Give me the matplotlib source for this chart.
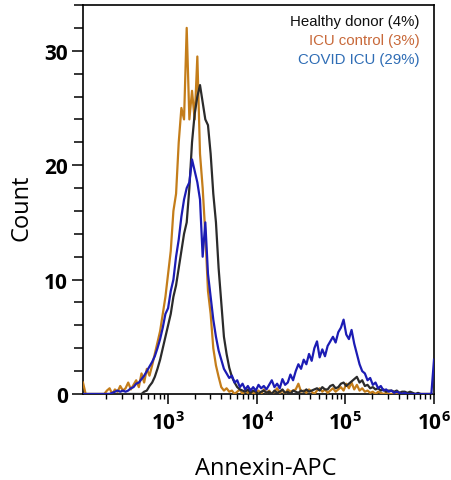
import numpy as np
import matplotlib.pyplot as plt
from matplotlib.ticker import FixedLocator, MultipleLocator, LogLocator, NullFormatter

plt.rcParams['font.family'] = 'Open Sans'
plt.rcParams['mathtext.fontset'] = 'custom'
plt.rcParams['mathtext.bf'] = 'Open Sans:bold'
plt.rcParams['mathtext.rm'] = 'Open Sans'

# -------------------------
# Data: histogram channels (log10 of Annexin-APC) and counts
# -------------------------
log_channels = np.arange(2.04, 6.0001, 0.03)

icu_control = [
    1.0, 0, 0, 0, 0, 0, 0, 0, 0,
    0.3, 0.5, 0, 0.4, 0.2, 0.7, 0.3, 0.5, 1.0, 0.4, 0.8, 1.2, 0.6, 1.8, 1.0, 2.2,
    1.6, 2.5, 3.5, 4.5, 5.5, 7.0, 8.5, 10.5, 12.5, 16, 17.5, 22, 25, 24, 32,
    24, 26.5, 24, 29.5, 21, 18, 14, 9, 7, 4, 2.5, 1.5, 0.6, 0.3, 0.5, 0.2,
    0.3, 0, 0.2, 0.4, 0, 0.3, 0.1, 0.4, 0, 0.2, 0.3, 0, 0.4, 0.1, 0.3, 0,
    0.2, 0.5, 0.1, 0.3, 0, 0.4, 0.2, 0.3,
    0.4, 0.9, 0.2,
    0.3, 0.1, 0.4, 0.2, 0, 0.3, 0.5, 0.2, 0.4, 0.1, 0.3, 0.5, 0.2, 0.4,
    0.6, 0.3, 0.9, 0.5, 1.0, 0.4, 0.8, 0.3, 0.5, 0.2,
    0.3, 0.1, 0.2, 0, 0.2, 0.1, 0, 0.1, 0, 0, 0, 0, 0, 0, 0, 0, 0, 0, 0, 0,
    0, 0, 0, 0, 0, 0,
]

healthy_donor = [
    0, 0, 0, 0, 0, 0, 0, 0, 0, 0, 0, 0, 0, 0, 0, 0, 0, 0, 0, 0, 0, 0, 0,
    0.2, 0.3, 0.7, 1.0, 1.5, 2.2, 3.0, 4.0, 5.0, 6.0, 7.0, 8.5, 9.5, 11, 12.5,
    14, 15, 18, 22, 24.5, 26, 27, 25.5, 24, 23.5, 21, 17.5, 15, 11, 8, 5, 3.5,
    2.3, 1.5, 1.0, 0.6, 0.4,
    0.3, 0.2, 0.4, 0.1, 0.3, 0.2, 0, 0.2, 0.3, 0.1, 0.2, 0, 0.3, 0.1, 0.2,
    0.4, 0.1, 0.2, 0, 0.3, 0.2, 0.1, 0.3, 0.2, 0.4, 0.2, 0.3,
    0.4, 0.5, 0.3, 0.6, 0.4, 0.4, 0.7, 0.8, 0.5, 0.6, 0.9, 1.0, 0.7, 0.9, 1.1,
    1.3, 1.5, 1.0, 1.2, 0.7, 0.8, 0.5, 0.6, 0.4, 0.5, 0.3, 0.4, 0.2, 0.3, 0.3,
    0.2, 0.3, 0.1, 0.2, 0.2, 0.1, 0.2, 0.1, 0, 0.1, 0, 0, 0, 0, 0, 0,
]

covid_icu = [
    0, 0, 0, 0, 0, 0, 0, 0, 0, 0, 0,
    0.1, 0.2, 0.3, 0.2, 0.3, 0.2,
    0.3, 0.5, 0.6, 0.9, 1.0, 1.3, 1.6, 2.0, 2.4, 2.8, 3.3, 4.0, 4.8, 5.8, 7.0,
    7.5, 9.0, 10, 12, 13.5, 15.5, 17, 18, 18.5, 20.5, 19.5, 18.5, 17, 12, 15,
    10.5, 8.5, 6.5, 5, 3.8, 3.0, 2.2, 1.8, 1.4, 1.6, 1.0, 1.2, 0.6, 0.9, 0.4,
    0.7, 0.3, 0.6, 0.3, 0.8, 0.5, 0.7, 0.4, 0.8,
    1.2, 0.6, 0.9, 0.5, 1.3, 0.8, 1.0, 1.7, 1.2, 2.0, 2.6, 2.2, 3.0, 2.6, 3.5,
    2.9, 4.0, 4.6, 3.2, 3.9, 3.3, 4.2, 4.6, 5.0, 4.5, 5.4, 5.8, 6.5, 5.2, 4.8,
    5.6, 4.4, 3.5, 2.6, 2.0, 1.8, 1.2, 1.4, 0.8, 1.0, 0.5, 0.7, 0.3, 0.4, 0.2,
    0.3, 0.1, 0.2, 0.1, 0, 0.1,
    0, 0, 0, 0, 0, 0, 0, 0, 0, 0,
    3.0,
]

legend_labels = ['Healthy donor (4%)', 'ICU control (3%)', 'COVID ICU (29%)']
legend_colors = ['#111111', '#c8693a', '#2f6db5']

y_major = [0, 10, 20, 30]
x_major = [1e3, 1e4, 1e5, 1e6]
x_major_labels = [r'$\mathbf{10^3}$', r'$\mathbf{10^4}$', r'$\mathbf{10^5}$', r'$\mathbf{10^6}$']

# -------------------------
# Figure
# -------------------------
fig = plt.figure(figsize=(4.52, 4.81), dpi=100)
ax = fig.add_axes([83 / 452, 86 / 481, 351 / 452, 389 / 481])

x = 10 ** log_channels
ax.plot(x, icu_control, color='#c47d1a', lw=1.6, zorder=3)
ax.plot(x, healthy_donor, color='#2b2b2b', lw=1.6, zorder=3)
ax.plot(x, covid_icu, color='#1c1cb4', lw=1.6, zorder=3)

ax.set_xscale('log')
ax.set_xlim(10 ** 2.04, 1e6)
ax.set_ylim(0, 34)

for s in ax.spines.values():
    s.set_linewidth(1.2)

# y ticks
ax.yaxis.set_major_locator(FixedLocator(y_major))
ax.yaxis.set_minor_locator(MultipleLocator(2))
ax.tick_params(axis='y', which='major', length=8, width=1.1, pad=3,
               labelsize=15)
ax.tick_params(axis='y', which='minor', length=6.5, width=1.1)
for lab in ax.get_yticklabels():
    lab.set_fontweight('bold')

# x ticks
ax.xaxis.set_major_locator(FixedLocator(x_major))
ax.set_xticklabels(x_major_labels)
ax.xaxis.set_minor_locator(LogLocator(base=10, subs=range(2, 10)))
ax.xaxis.set_minor_formatter(NullFormatter())
ax.tick_params(axis='x', which='major', length=7, width=1.1, pad=5,
               labelsize=15)
ax.tick_params(axis='x', which='minor', length=3.5, width=1.0)

# axis labels
ax.set_ylabel('Count', fontsize=17)
ax.yaxis.set_label_coords(-0.14, 0.48)
ax.set_xlabel('Annexin-APC', fontsize=17)
ax.xaxis.set_label_coords(0.521, -0.16)

# legend as coloured text
legend_y = [0.9486, 0.8997, 0.8509]
for lab, col, yy in zip(legend_labels, legend_colors, legend_y):
    ax.text(0.96, yy, lab, color=col, ha='right', va='baseline',
            fontsize=10.8, family='Liberation Sans', transform=ax.transAxes)

fig.savefig('out.png', dpi=100)
